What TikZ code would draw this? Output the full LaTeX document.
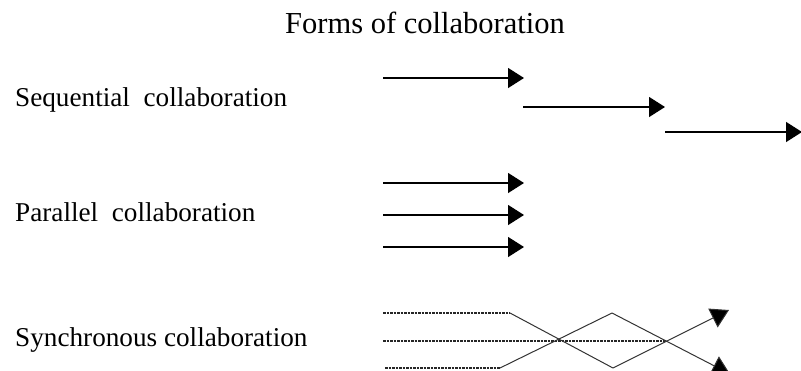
\documentclass[tikz,border=0pt]{standalone}
\usepackage{fontspec}
\setmainfont{Liberation Serif}
\usetikzlibrary{arrows.meta}
\begin{document}
\begin{tikzpicture}[x=1pt,y=-1pt,
  lbl/.style={anchor=base west,inner sep=0pt,font=\fontsize{27.2}{32}\selectfont},
  ttl/.style={anchor=base,inner sep=0pt,font=\fontsize{30.5}{34}\selectfont},
  arr/.style={line width=1.3pt,-{Triangle[length=16pt,width=20pt]}},
  dsh/.style={line width=1.1pt,dash pattern=on 2.5pt off 1pt,black!85},
  sol/.style={line width=1pt,black!80},
  sarr/.style={line width=1pt,black!80,-{Triangle[length=18pt,width=21pt,fill=black]}}]
\useasboundingbox (0,0) rectangle (801,370);
\node[ttl] (title) at (425,33) {Forms of collaboration};
\node[lbl] (seq) at (15,106) {Sequential\ \ collaboration};
\node[lbl] (par) at (15,221) {Parallel\ \ collaboration};
\node[lbl] (syn) at (15,346) {Synchronous collaboration};
% sequential
\coordinate (s1a) at (383,78); \coordinate (s1b) at (524,78);
\coordinate (s2a) at (523,107); \coordinate (s2b) at (665,107);
\coordinate (s3a) at (665,132); \coordinate (s3b) at (802,132);
\draw[arr] (s1a) -- (s1b);
\draw[arr] (s2a) -- (s2b);
\draw[arr] (s3a) -- (s3b);
% parallel
\coordinate (p1a) at (383,183); \coordinate (p1b) at (524,183);
\coordinate (p2a) at (383,215); \coordinate (p2b) at (524,215);
\coordinate (p3a) at (383,247); \coordinate (p3b) at (524,247);
\draw[arr] (p1a) -- (p1b);
\draw[arr] (p2a) -- (p2b);
\draw[arr] (p3a) -- (p3b);
% synchronous
\coordinate (t0) at (383,313); \coordinate (t1) at (510,313);
\coordinate (m0) at (383,341); \coordinate (m1) at (665,341);
\coordinate (b0) at (385,368); \coordinate (b1) at (500,368);
\coordinate (bt) at (612,313); \coordinate (tb) at (613,368);
\coordinate (e1) at (729,310); \coordinate (e2) at (730,374);
\draw[dsh] (t0) -- (t1);
\draw[dsh] (m0) -- (m1);
\draw[dsh] (b0) -- (b1);
\draw[sol] (t1) -- (tb);
\draw[sol] (b1) -- (bt);
\draw[sarr] (tb) -- (e1);
\draw[sarr] (bt) -- (e2);
\end{tikzpicture}
\end{document}
